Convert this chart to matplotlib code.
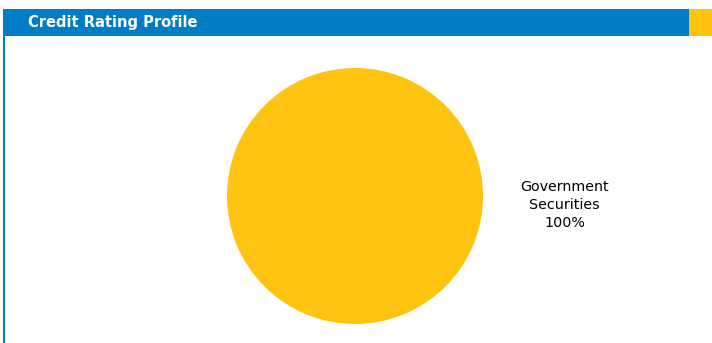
"""Credit rating profile: single-slice pie with framed header."""
import matplotlib
matplotlib.use("Agg")
import matplotlib.pyplot as plt
from matplotlib.patches import Rectangle

BLUE = "#007DC5"
GOLD = "#FFC20E"
PIE = "#FFC412"

categories = ["Government\nSecurities"]
shares = [100]

W, H = 712, 343
fig = plt.figure(figsize=(W / 100, H / 100), dpi=100)
ax = fig.add_axes([0, 0, 1, 1])

# header bar + gold tab
ax.add_patch(Rectangle((3, H - 36), 686, 27, facecolor=BLUE, edgecolor="none"))
ax.add_patch(Rectangle((689, H - 36), 23, 27, facecolor=GOLD, edgecolor="none"))
ax.text(28, H - 22.5, "Credit Rating Profile", ha="left", va="center",
        fontsize=10.5, fontweight="bold", color="white")

# left frame line
ax.add_patch(Rectangle((3, 0), 2, H - 36, facecolor=BLUE, edgecolor="none"))

labels = [f"{c}\n{v}%" for c, v in zip(categories, shares)]
wedges, texts = ax.pie(shares, labels=labels, colors=[PIE], center=(355, H - 196),
                       radius=128, startangle=177.5, labeldistance=1.64,
                       frame=True, textprops=dict(fontsize=10.3, color="black",
                                                  ha="center", va="center",
                                                  multialignment="center",
                                                  linespacing=1.35))
ax.set_xlim(0, W)
ax.set_ylim(0, H)
ax.set_aspect("auto")
ax.axis("off")

fig.savefig("out.png", dpi=100, facecolor="white")
